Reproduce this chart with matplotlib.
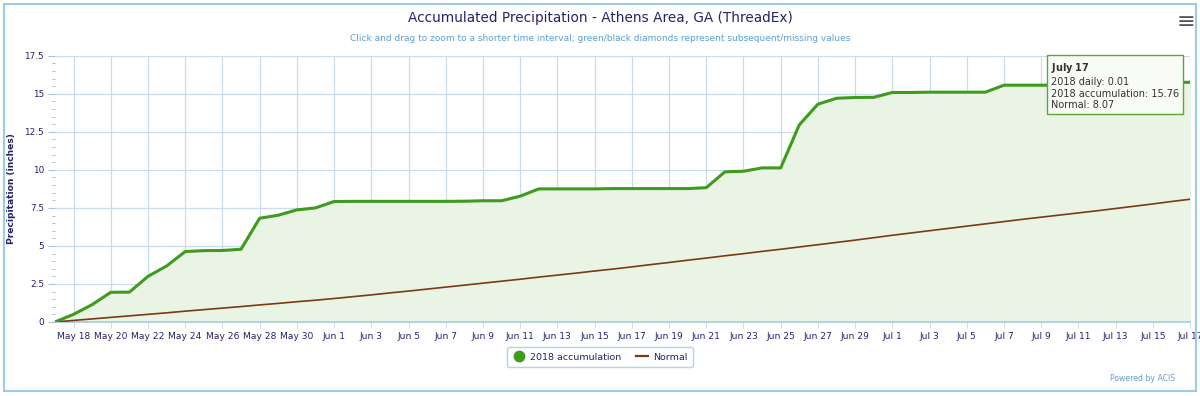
import matplotlib
matplotlib.use("Agg")
import matplotlib.pyplot as plt
import numpy as np
import pandas as pd
from matplotlib.lines import Line2D
from matplotlib.patches import Rectangle


# daily values, May 17 - Jul 17 2018
dates = pd.date_range("2018-05-17", "2018-07-17", freq="D")

accum_2018 = [
    0.00, 0.50, 1.14, 1.95, 1.96, 3.00, 3.68, 4.63, 4.69, 4.70, 4.78, 6.82,
    7.02, 7.37, 7.50, 7.92, 7.93, 7.93, 7.93, 7.93, 7.93, 7.93, 7.94, 7.97,
    7.97, 8.27, 8.75, 8.75, 8.75, 8.75, 8.77, 8.77, 8.77, 8.77, 8.77, 8.83,
    9.87, 9.91, 10.13, 10.13, 12.96, 14.32, 14.71, 14.76, 14.77, 15.09, 15.09,
    15.11, 15.11, 15.11, 15.11, 15.57, 15.57, 15.57, 15.57, 15.57, 15.57,
    15.57, 15.57, 15.57, 15.75, 15.76,
]

normal = [
    0.00, 0.10, 0.20, 0.30, 0.40, 0.50, 0.60, 0.71, 0.81, 0.91, 1.01, 1.12,
    1.22, 1.33, 1.43, 1.54, 1.66, 1.78, 1.91, 2.03, 2.16, 2.29, 2.42, 2.55,
    2.68, 2.81, 2.95, 3.08, 3.21, 3.35, 3.48, 3.62, 3.77, 3.91, 4.06, 4.20,
    4.35, 4.49, 4.64, 4.78, 4.93, 5.08, 5.23, 5.38, 5.54, 5.70, 5.85, 6.00,
    6.15, 6.30, 6.45, 6.60, 6.75, 6.89, 7.03, 7.17, 7.31, 7.46, 7.61, 7.76,
    7.92, 8.07,
]

y_ticks = [0, 2.5, 5, 7.5, 10, 12.5, 15, 17.5]
y_tick_labels = ["0", "2.5", "5", "7.5", "10", "12.5", "15", "17.5"]

tick_dates = dates[1::2]
tick_labels = [f"{d:%b} {d.day}" for d in tick_dates]

green = "#3f9a1e"
brown = "#7b3a12"
navy = "#23236b"
grid_c = "#c9dcee"

fig = plt.figure(figsize=(12, 3.96), dpi=100)
ax = fig.add_axes([0.0458, 0.187, 0.9459, 0.672])

# outer border of the chart
fig.patches.append(Rectangle((0.003, 0.012), 0.994, 0.978, transform=fig.transFigure,
                             fill=False, edgecolor="#9ccbe6", linewidth=1.5))

ax.fill_between(dates, accum_2018, 0, color="#eaf4e4", zorder=1)
ax.plot(dates, normal, color=brown, linewidth=1.2, zorder=3)
ax.plot(dates, accum_2018, color=green, linewidth=2.2, zorder=4)

ax.set_xlim(dates[0], dates[-1])
ax.set_ylim(0, 17.5)
ax.set_yticks(y_ticks)
ax.set_yticklabels(y_tick_labels)
ax.set_yticks(np.arange(0, 17.6, 0.5), minor=True)
ax.set_xticks(tick_dates)
ax.set_xticklabels(tick_labels)

ax.grid(True, which="major", color=grid_c, linewidth=0.9, zorder=0)
ax.set_axisbelow(True)
for s in ["top", "right", "left"]:
    ax.spines[s].set_visible(False)
ax.spines["bottom"].set_color("#a9cbe6")
ax.spines["bottom"].set_linewidth(1.2)

ax.tick_params(axis="x", colors=navy, labelsize=6.6, length=4, color=grid_c, pad=3)
ax.tick_params(axis="y", which="major", colors=navy, labelsize=6.4, length=5,
               color="#b0c4d8", pad=3)
ax.tick_params(axis="y", which="minor", length=2, color="#b0b0b0")

ax.set_ylabel("Precipitation (inches)", color=navy, fontsize=6.6,
              fontweight="bold", labelpad=6)

fig.text(0.5, 0.955, "Accumulated Precipitation - Athens Area, GA (ThreadEx)",
         ha="center", va="center", fontsize=9.8, color=navy)
fig.text(0.5, 0.902,
         "Click and drag to zoom to a shorter time interval; green/black diamonds "
         "represent subsequent/missing values",
         ha="center", va="center", fontsize=6.5, color="#5b9fd6")
fig.text(0.988, 0.945, "\u2261", ha="center", va="center", fontsize=16,
         color="#555555")
fig.text(0.979, 0.045, "Powered by ACIS", ha="right", va="center",
         fontsize=5.6, color="#6b9bd0")

# tooltip for last point
fig.text(0.876, 0.845,
         f"$\\bf{{July\\ 17}}$\n2018 daily: 0.01\n2018 accumulation: {accum_2018[-1]:.2f}\n"
         f"Normal: {normal[-1]:.2f}",
         ha="left", va="top", fontsize=7, color="#333333", linespacing=1.2, zorder=6,
         bbox=dict(boxstyle="square,pad=0.4", fc="#f9fbf7", ec="#5aa63a", lw=1))

handles = [
    Line2D([], [], color=green, marker="o", linestyle="none", markersize=7.5),
    Line2D([], [], color=brown, linewidth=1.6),
]
leg = fig.legend(handles, ["2018 accumulation", "Normal"], loc="center",
                 bbox_to_anchor=(0.5, 0.098), ncol=2, fontsize=6.8, frameon=True,
                 handlelength=1.3, columnspacing=1.6, handletextpad=0.5,
                 borderpad=0.6, fancybox=True)
leg.get_frame().set_edgecolor("#9ccbe6")
leg.get_frame().set_linewidth(1)
for t in leg.get_texts():
    t.set_color(navy)

fig.savefig("out.png", dpi=100)
